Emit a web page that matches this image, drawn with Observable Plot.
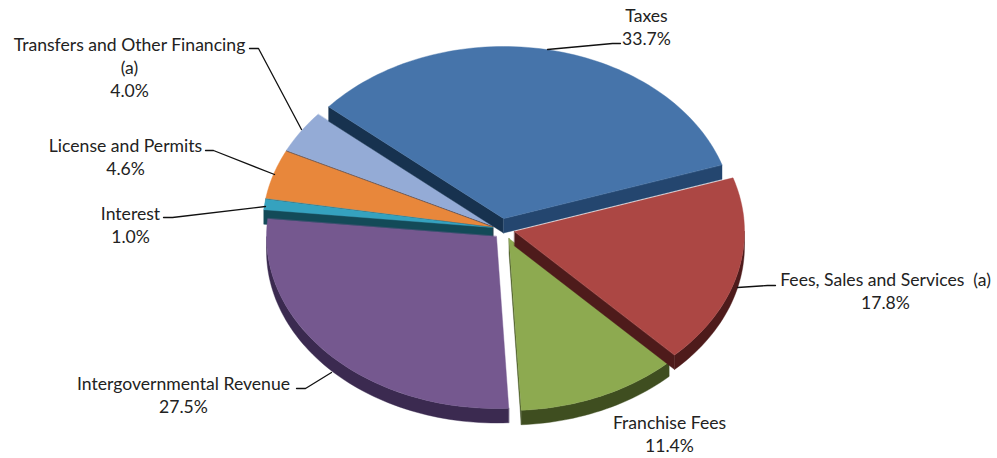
<!DOCTYPE html>
<html>
<head>
<meta charset="utf-8">
<script src="https://cdn.jsdelivr.net/npm/d3@7"></script>
<script src="https://cdn.jsdelivr.net/npm/@observablehq/plot@0.6"></script>
<style>
html,body{margin:0;padding:0;background:#fff;overflow:hidden}
svg text{white-space:pre}
</style>
</head>
<body>
<div id="chart"></div>
<script>
// Data, in the chart's clockwise order
const categories = ["Taxes","Fees, Sales and Services  (a)","Franchise Fees","Intergovernmental Revenue","Interest","License and Permits","Transfers and Other Financing\n(a)"];
const shares = [33.7,17.8,11.4,27.5,1.0,4.6,4.0];

// Styles per slice
const topColors  = ["#4674AA","#AC4744","#8DAA50","#75588F","#35A2BF","#E8873B","#94ABD6"];
const wallColors = ["#24466F","#4E1B1B","#3F4E20","#3B2A50","#15505F","#5E3414","#33425F"];
const startCutColors = ["#17324F","#4E1B1B","#3F4E20","#3B2A50","#134A58","#3a3a3a","#33425F"];

// Layout of the projected pie
const apexX = [503,514,508.5,496,492,492,492.5];
const apexY = [218,231,238,236,227,226.5,225.5];
const rx = 230, ry = 172, depth = 14.5, startDeg = -49.5;
const drawOrder = [6,5,4,3,2,1,0];

// Label layout
const labelX = [646,885,669,183,130,125,129];
const labelY = [26,290,432.5,393.5,223.5,155.5,66.5];
const leaders = [
  [[620,43],[612,43],[547,49]],
  [[775,285],[767,285],[737,287]],
  [],
  [[296,388],[305,388],[331,372]],
  [[163,217],[172,217],[265,206]],
  [[205,150],[213,150],[274,174]],
  [[249,48],[258,48],[301,129]]
];

const rad = d => d * Math.PI / 180;
const total = d3.sum(shares);
const cum = d3.cumsum(shares);
const slices = shares.map((v, i) => {
  const a0 = startDeg + 360 * (cum[i] - v) / total;
  const a1 = startDeg + 360 * cum[i] / total;
  return {i, a0, a1};
});
function rimPoint(i, deg, dz = 0) {
  return [apexX[i] + rx * Math.sin(rad(deg)), apexY[i] - ry * Math.cos(rad(deg)) + dz];
}
function arc(i, a, b, dz = 0) {
  const n = Math.max(2, Math.ceil(Math.abs(b - a) / 1.5));
  return d3.range(n + 1).map(k => rimPoint(i, a + (b - a) * k / n, dz));
}

const polys = [];
let pid = 0;
function add(points, fill) {
  const id = pid++;
  points.forEach(p => polys.push({x: p[0], y: p[1], id, fill}));
}
for (const k of drawOrder) {
  const {i, a0, a1} = slices[k];
  const c = [apexX[i], apexY[i]];
  const cd = [apexX[i], apexY[i] + depth];
  // start cut face, visible on the left half
  if (Math.sin(rad(a0)) < 0) {
    const p = rimPoint(i, a0), q = rimPoint(i, a0, depth);
    add([c, p, q, cd], startCutColors[i]);
  }
  // end cut face, visible on the right half
  if (Math.sin(rad(a1)) > 0) {
    const p = rimPoint(i, a1), q = rimPoint(i, a1, depth);
    add([c, p, q, cd], wallColors[i]);
  }
  // outer wall, front half only
  const w0 = Math.max(a0, 90), w1 = Math.min(a1, 270);
  if (w1 > w0) {
    add([...arc(i, w0, w1), ...arc(i, w1, w0, depth)], wallColors[i]);
  }
  // top face
  add([c, ...arc(i, a0, a1)], topColors[i]);
}

const leaderPts = leaders.flatMap((pts, i) => pts.map(p => ({x: p[0], y: p[1], i})));
const labels = categories.map((c, i) => ({
  x: labelX[i], y: labelY[i], text: `${c}\n${shares[i].toFixed(1)}%`
}));

const plot = Plot.plot({
  width: 997, height: 458, margin: 0,
  x: {domain: [0, 997], range: [0, 997], axis: null},
  y: {domain: [0, 458], range: [0, 458], axis: null},
  style: {background: "#fff"},
  marks: [
    Plot.line(polys, {x: "x", y: "y", z: "id", fill: "fill", stroke: "fill", strokeWidth: 0.4, curve: "linear-closed"}),
    Plot.line(leaderPts, {x: "x", y: "y", z: "i", stroke: "#111", strokeWidth: 1.3, curve: "linear"}),
    Plot.text(labels, {x: "x", y: "y", text: "text", fontSize: 17.6, fontFamily: "Lato", fill: "#222", lineHeight: 1.31, textAnchor: "middle", lineAnchor: "middle"})
  ]
});
document.getElementById("chart").appendChild(plot);
</script>
</body>
</html>
